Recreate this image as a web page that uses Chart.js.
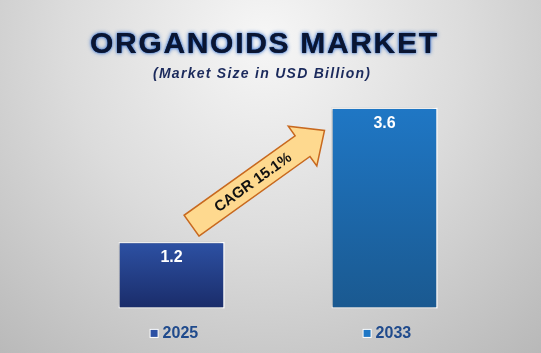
<!DOCTYPE html>
<html>
<head>
<meta charset="utf-8">
<script src="https://cdn.jsdelivr.net/npm/chart.js@4.4.1/dist/chart.umd.min.js"></script>
<style>
  html, body { margin: 0; padding: 0; background: #d0d0d0; }
  canvas { display: block; }
</style>
</head>
<body>
<canvas id="marketChart" width="541" height="353"></canvas>
<script>
const categories = ['2025', '2033'];
const marketSize = [1.2, 3.6];
const titleText = 'ORGANOIDS MARKET';
const subtitleText = '(Market Size in USD Billion)';
const cagrText = 'CAGR 15.1%';

const barTopColors = ['#2d51a4', '#1f77c5'];
const barBottomColors = ['#1a2c69', '#1a5990'];
const FONT = '"Liberation Sans", Arial, sans-serif';
const TICK_PAD = 15;
const TICK_SIZE = 16;

// draw text with its letters spread to a given width
function drawSpaced(ctx, text, cx, y, targetWidth) {
    const widths = [...text].map(ch => ctx.measureText(ch).width);
    const sum = widths.reduce((a, b) => a + b, 0);
    const gap = (targetWidth - sum) / (text.length - 1);
    let x = cx - targetWidth / 2;
    ctx.textAlign = 'left';
    [...text].forEach((ch, i) => {
        ctx.fillText(ch, x, y);
        x += widths[i] + gap;
    });
}

const backgroundPlugin = {
    id: 'background',
    beforeDraw(chart) {
        const { ctx, width, height } = chart;
        const g = ctx.createRadialGradient(265, 40, 10, 265, 40, 430);
        g.addColorStop(0, '#f5f5f5');
        g.addColorStop(0.45, '#dcdcdc');
        g.addColorStop(1, '#b6b6b6');
        ctx.save();
        ctx.fillStyle = g;
        ctx.fillRect(0, 0, width, height);
        ctx.restore();
    }
};

const titlePlugin = {
    id: 'titles',
    afterDraw(chart) {
        const ctx = chart.ctx;
        ctx.save();
        ctx.textBaseline = 'middle';
        ctx.font = 'bold 30px ' + FONT;
        ctx.fillStyle = '#0a1531';
        ctx.shadowColor = 'rgba(30, 95, 200, 0.9)';
        ctx.shadowBlur = 4;
        drawSpaced(ctx, titleText, 263.5, 45, 347);
        ctx.shadowBlur = 1.5;
        drawSpaced(ctx, titleText, 263.5, 45, 347);
        ctx.shadowColor = 'transparent';
        ctx.font = 'italic bold 14px ' + FONT;
        ctx.fillStyle = '#1b2a5c';
        drawSpaced(ctx, subtitleText, 261.5, 74, 217);
        ctx.restore();
    }
};

const barExtrasPlugin = {
    id: 'barExtras',
    beforeDatasetsDraw(chart) {
        chart.ctx.save();
        chart.ctx.shadowColor = 'rgba(0, 0, 0, 0.3)';
        chart.ctx.shadowBlur = 3;
        chart.ctx.shadowOffsetX = -2;
    },
    afterDatasetsDraw(chart) {
        const ctx = chart.ctx;
        ctx.restore();
        const meta = chart.getDatasetMeta(0);
        const xScale = chart.scales.x;
        const yScale = chart.scales.y;

        // value labels
        ctx.save();
        ctx.font = 'bold 16px ' + FONT;
        ctx.fillStyle = '#ffffff';
        ctx.textAlign = 'center';
        ctx.textBaseline = 'middle';
        meta.data.forEach((bar, i) => {
            ctx.fillText(marketSize[i].toFixed(1), bar.x, bar.y + 16);
        });
        ctx.restore();

        // legend squares next to the category labels
        ctx.save();
        ctx.font = 'bold ' + TICK_SIZE + 'px ' + FONT;
        const pad = ctx.measureText('    ').width;
        const labelMid = xScale.top + TICK_PAD + TICK_SIZE * 1.2 / 2;
        categories.forEach((c, i) => {
            const cx = xScale.getPixelForTick(i);
            const total = ctx.measureText('    ' + c).width;
            const textLeft = cx - total / 2 + pad;
            const sx = textLeft - 12;
            const sy = labelMid - 3.5;
            ctx.fillStyle = '#ffffff';
            ctx.fillRect(sx - 1, sy - 1, 9, 9);
            ctx.fillStyle = barTopColors[i];
            ctx.fillRect(sx, sy, 7, 7);
        });
        ctx.restore();

        // growth arrow from first bar to last bar
        const first = meta.data[0];
        const last = meta.data[meta.data.length - 1];
        const tx = first.x + 20, ty = yScale.getPixelForValue(marketSize[0]) - 16;
        const px = last.x - 60, py = yScale.getPixelForValue(marketSize[marketSize.length - 1]) + 23;
        const len = Math.hypot(px - tx, py - ty);
        const ux = (px - tx) / len, uy = (py - ty) / len;
        const nx = -uy, ny = ux;
        const shaft = 12.75, head = 24.5, headLen = 27;
        const bx = px - ux * headLen, by = py - uy * headLen;
        ctx.save();
        ctx.beginPath();
        ctx.moveTo(tx + nx * shaft, ty + ny * shaft);
        ctx.lineTo(bx + nx * shaft, by + ny * shaft);
        ctx.lineTo(bx + nx * head, by + ny * head);
        ctx.lineTo(px, py);
        ctx.lineTo(bx - nx * head, by - ny * head);
        ctx.lineTo(bx - nx * shaft, by - ny * shaft);
        ctx.lineTo(tx - nx * shaft, ty - ny * shaft);
        ctx.closePath();
        ctx.fillStyle = '#fed98f';
        ctx.fill();
        ctx.lineWidth = 1.5;
        ctx.strokeStyle = '#c8691f';
        ctx.stroke();

        const mx = tx + ux * len * 0.46, my = ty + uy * len * 0.46;
        ctx.translate(mx, my);
        ctx.rotate(Math.atan2(uy, ux));
        ctx.font = 'bold 15px ' + FONT;
        ctx.fillStyle = '#111111';
        ctx.textAlign = 'center';
        ctx.textBaseline = 'middle';
        ctx.fillText(cagrText, 0, 1);
        ctx.restore();
    }
};

new Chart(document.getElementById('marketChart'), {
    type: 'bar',
    data: {
        labels: categories,
        datasets: [{
            data: marketSize,
            backgroundColor: (c) => {
                const area = c.chart.chartArea;
                const yScale = c.chart.scales.y;
                if (!area || !yScale) return barTopColors[c.dataIndex];
                const top = yScale.getPixelForValue(c.raw);
                if (!isFinite(top) || !isFinite(area.bottom)) return barTopColors[c.dataIndex];
                const g = c.chart.ctx.createLinearGradient(0, top, 0, area.bottom);
                g.addColorStop(0, barTopColors[c.dataIndex]);
                g.addColorStop(1, barBottomColors[c.dataIndex]);
                return g;
            },
            borderColor: '#ffffff',
            borderWidth: 1.5,
            borderSkipped: false,
            barPercentage: 0.5,
            categoryPercentage: 1
        }]
    },
    options: {
        responsive: false,
        animation: false,
        layout: { padding: { top: 85, left: 65, right: 50, bottom: -5 } },
        plugins: {
            legend: { display: false },
            title: { display: false },
            tooltip: { enabled: false }
        },
        scales: {
            x: {
                grid: { display: false, drawTicks: false },
                border: { display: false },
                ticks: {
                    padding: TICK_PAD,
                    color: '#1f4a8c',
                    font: { family: FONT, size: TICK_SIZE, weight: 'bold' },
                    callback: (v, i) => '    ' + categories[i]
                }
            },
            y: {
                display: false,
                min: 0,
                max: 4
            }
        }
    },
    plugins: [backgroundPlugin, titlePlugin, barExtrasPlugin]
});
</script>
</body>
</html>
